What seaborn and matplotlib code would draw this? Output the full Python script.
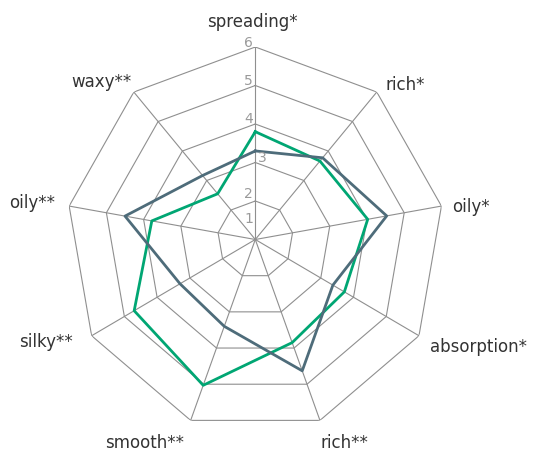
import numpy as np
import pandas as pd
import matplotlib
matplotlib.use("Agg")
import matplotlib.pyplot as plt
from matplotlib.transforms import offset_copy
import seaborn as sns

# ---- data ----
categories = ["spreading*", "rich*", "oily*", "absorption*", "rich**",
              "smooth**", "silky**", "oily**", "waxy**"]
series_a = [3.8, 3.66, 4.02, 3.72, 3.85, 5.03, 4.70, 3.78, 2.55]   # green
series_b = [3.3, 3.77, 4.53, 3.37, 4.63, 3.40, 3.30, 4.50, 3.17]   # slate
series_names = ["A", "B"]
tick_values = [1, 2, 3, 4, 5, 6]
tick_labels = ["1", "2", "3", "4", "5", "6"]

# ---- styling ----
GREEN = "#00a673"
SLATE = "#4e6c7a"
GRID = "#8f8f8f"

n = len(categories)
angles = np.linspace(0, 2 * np.pi, n, endpoint=False)

rows = []
for name, vals in zip(series_names, [series_a, series_b]):
    for a, v in zip(list(angles) + [angles[0] + 2 * np.pi], list(vals) + [vals[0]]):
        rows.append({"angle": a, "score": v, "series": name})
df = pd.DataFrame(rows)

fig = plt.figure(figsize=(5.33, 4.52), dpi=100)
cx, cy, rx, ry = 255.3, 240.5, 189.0, 192.5
W, H = 533.0, 452.0
ax = fig.add_axes([(cx - rx) / W, (H - cy - ry) / H, 2 * rx / W, 2 * ry / H],
                  projection="polar")
ax.set_aspect("auto")
ax.set_theta_zero_location("N")
ax.set_theta_direction(-1)
ax.set_ylim(tick_values[0], tick_values[-1])
ax.grid(False)
ax.spines["polar"].set_visible(False)
ax.set_xticks([])
ax.set_yticks([])
ax.patch.set_alpha(0)

# polygon grid rings
ring_angles = np.append(angles, angles[0])
for lv in tick_values[1:]:
    ax.plot(ring_angles, [lv] * len(ring_angles), color=GRID, lw=0.8, zorder=1)
# spokes
for a in angles:
    ax.plot([a, a], [tick_values[0], tick_values[-1]], color=GRID, lw=0.8, zorder=1)

sns.lineplot(data=df, x="angle", y="score", hue="series",
             hue_order=series_names, palette=[GREEN, SLATE],
             sort=False, estimator=None, legend=False, lw=2.0, ax=ax, zorder=3)
ax.set_xlabel("")
ax.set_ylabel("")

# radial tick labels (along the top spoke)
tick_offsets = [(-6, 17.2), (-7, 3.7), (7.4, 1.8), (-7, 1.7), (-7, 1.5), (-7, 0.7)]
for v, lab, (dx, dy) in zip(tick_values, tick_labels, tick_offsets):
    tr = offset_copy(ax.transData, fig=fig, x=dx, y=dy, units="dots")
    ax.text(0, v, lab, transform=tr, ha="center", va="baseline",
            fontsize=10, color="#9a9a9a", zorder=4)

# category labels
label_specs = [("center", -2.5, 21.3), ("left", 9.2, 3.0), ("left", 10.3, -4.6),
               ("left", 11.0, -15.0), ("left", 0.8, -26.6), ("right", -6.7, -26.6),
               ("right", -19.3, -10.0), ("right", -14.2, -1.2), ("right", -2.1, 6.3)]
for a, lab, (ha, dx, dy) in zip(angles, categories, label_specs):
    tr = offset_copy(ax.transData, fig=fig, x=dx, y=dy, units="dots")
    ax.text(a, tick_values[-1], lab, transform=tr, ha=ha, va="baseline",
            fontsize=12, color="#333333")

fig.savefig("out.png", dpi=100)
